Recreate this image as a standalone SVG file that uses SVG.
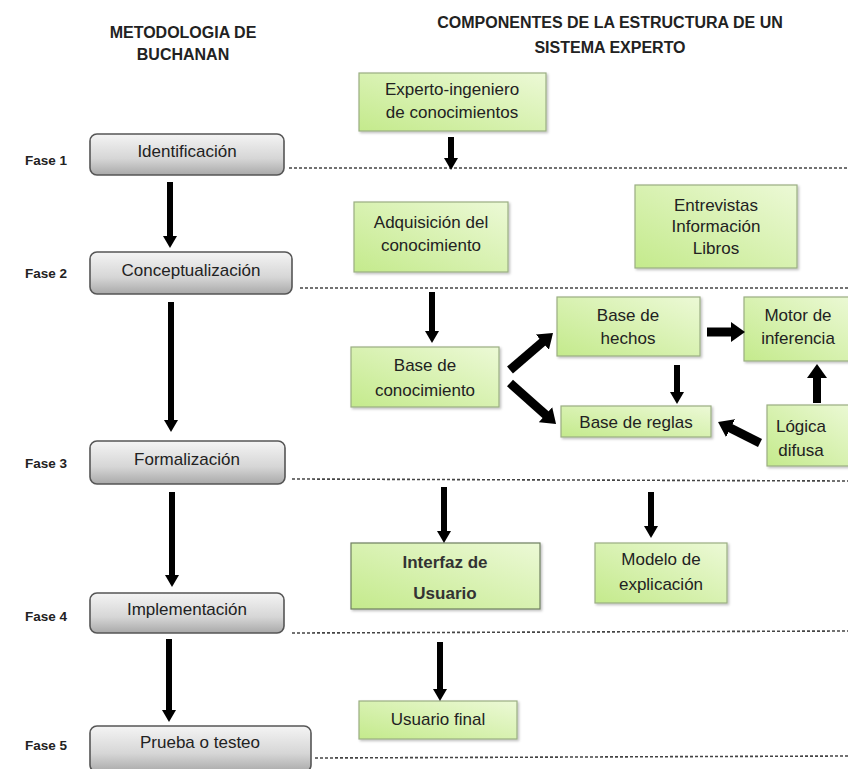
<svg xmlns="http://www.w3.org/2000/svg" width="848" height="769" viewBox="0 0 848 769">
<style>
text{font-family:"Liberation Sans",Arial,sans-serif;fill:#222;}
.t{font-size:17px;text-anchor:middle;}
.h{font-size:16px;font-weight:bold;text-anchor:middle;}
.f{font-size:13.5px;font-weight:bold;}
.g{fill:url(#gg);stroke:#555;stroke-width:1.6;}
.v{fill:url(#gv);stroke:#9aae82;stroke-width:1.2;filter:url(#sh);}
.dl{stroke:#444;stroke-width:1.6;stroke-dasharray:3 2;fill:none;}
.a{stroke:#000;stroke-width:6;fill:none;marker-end:url(#hs);}
.b{stroke:#000;stroke-width:9;fill:none;marker-end:url(#hb);}
</style>
<defs>
<linearGradient id="gg" x1="0" y1="0" x2="0" y2="1">
<stop offset="0" stop-color="#f4f4f4"/>
<stop offset="0.6" stop-color="#d6d6d6"/>
<stop offset="1" stop-color="#a9a9a9"/>
</linearGradient>
<linearGradient id="gv" x1="0" y1="1" x2="1" y2="0">
<stop offset="0" stop-color="#c4ea8c"/>
<stop offset="1" stop-color="#ecf9d6"/>
</linearGradient>
<filter id="sh" x="-10%" y="-10%" width="130%" height="130%">
<feDropShadow dx="1.5" dy="1.5" stdDeviation="1" flood-color="#000" flood-opacity="0.25"/>
</filter>
<marker id="hs" viewBox="0 0 12 14" markerUnits="userSpaceOnUse" markerWidth="12" markerHeight="14" refX="6" refY="7" orient="auto">
<path d="M0,0 L12,7 L0,14 z" fill="#000"/>
</marker>
<marker id="hb" viewBox="0 0 14 20" markerUnits="userSpaceOnUse" markerWidth="14" markerHeight="20" refX="7" refY="10" orient="auto">
<path d="M0,0 L14,10 L0,20 z" fill="#000"/>
</marker>
</defs>
<rect width="848" height="769" fill="#fff"/>

<g id="titles">
<text class="h" x="183" y="38">METODOLOGIA DE</text>
<text class="h" x="183" y="60">BUCHANAN</text>
<text class="h" x="610" y="28">COMPONENTES DE LA ESTRUCTURA DE UN</text>
<text class="h" x="610" y="53">SISTEMA EXPERTO</text>
</g>

<g id="phases">
<text class="f" x="25" y="165">Fase 1</text>
<text class="f" x="25" y="278">Fase 2</text>
<text class="f" x="25" y="468">Fase 3</text>
<text class="f" x="25" y="621">Fase 4</text>
<text class="f" x="25" y="750">Fase 5</text>
</g>

<g id="dashes">
<line class="dl" x1="289" y1="168" x2="848" y2="168"/>
<line class="dl" x1="300" y1="288" x2="848" y2="288"/>
<line class="dl" x1="292" y1="479" x2="848" y2="481"/>
<line class="dl" x1="292" y1="633" x2="848" y2="631"/>
<line class="dl" x1="315" y1="758" x2="848" y2="756"/>
</g>

<g id="identificacion"><rect class="g" x="90" y="134" width="194" height="41" rx="7"/><text class="t" x="187" y="157">Identificación</text></g>
<g id="conceptualizacion"><rect class="g" x="90" y="252" width="202" height="42" rx="7"/><text class="t" x="191" y="276">Conceptualización</text></g>
<g id="formalizacion"><rect class="g" x="90" y="441" width="195" height="43" rx="7"/><text class="t" x="187" y="465">Formalización</text></g>
<g id="implementacion"><rect class="g" x="90" y="593" width="194" height="40" rx="7"/><text class="t" x="187" y="615">Implementación</text></g>
<g id="prueba"><rect class="g" x="90" y="726" width="221" height="46" rx="7"/><text class="t" x="200" y="748">Prueba o testeo</text></g>

<g id="experto"><rect class="v" x="359" y="73" width="187" height="58"/><text class="t" x="452" y="95">Experto-ingeniero</text><text class="t" x="452" y="118">de conocimientos</text></g>
<g id="adquisicion"><rect class="v" x="354" y="202" width="154" height="70"/><text class="t" x="431" y="228">Adquisición del</text><text class="t" x="431" y="251">conocimiento</text></g>
<g id="entrevistas"><rect class="v" x="635" y="185" width="162" height="83"/><text class="t" x="716" y="211">Entrevistas</text><text class="t" x="716" y="232">Información</text><text class="t" x="716" y="254">Libros</text></g>
<g id="base-conocimiento"><rect class="v" x="351" y="347" width="148" height="60"/><text class="t" x="425" y="371">Base de</text><text class="t" x="425" y="396">conocimiento</text></g>
<g id="base-hechos"><rect class="v" x="557" y="297" width="143" height="59"/><text class="t" x="628" y="321">Base de</text><text class="t" x="628" y="344">hechos</text></g>
<g id="motor"><rect class="v" x="744" y="297" width="112" height="64"/><text class="t" x="798" y="321">Motor de</text><text class="t" x="798" y="344">inferencia</text></g>
<g id="base-reglas"><rect class="v" x="561" y="406" width="150" height="31"/><text class="t" x="636" y="428">Base de reglas</text></g>
<g id="logica"><rect class="v" x="767" y="405" width="88" height="61"/><text class="t" x="801" y="432">Lógica</text><text class="t" x="801" y="456">difusa</text></g>
<g id="interfaz"><rect class="v" x="351" y="543" width="189" height="66" style="stroke:#6f7f60"/><text class="t" x="445" y="568" style="font-weight:bold;fill:#333">Interfaz de</text><text class="t" x="445" y="599" style="font-weight:bold;fill:#333">Usuario</text></g>
<g id="modelo"><rect class="v" x="595" y="543" width="132" height="60"/><text class="t" x="661" y="565">Modelo de</text><text class="t" x="661" y="590">explicación</text></g>
<g id="usuario-final"><rect class="v" x="359" y="701" width="158" height="38"/><text class="t" x="438" y="725">Usuario final</text></g>

<g id="connectors">
<line class="a" x1="170" y1="182" x2="170" y2="242"/>
<line class="a" x1="171" y1="302" x2="171" y2="426"/>
<line class="a" x1="172" y1="492" x2="172" y2="581"/>
<line class="a" x1="169" y1="639" x2="169" y2="716"/>
<line class="a" x1="451" y1="137" x2="451" y2="164"/>
<line class="a" x1="432" y1="292" x2="432" y2="337"/>
<line class="a" x1="444" y1="487" x2="444" y2="537"/>
<line class="a" x1="651" y1="492" x2="651" y2="532"/>
<line class="a" x1="440" y1="642" x2="440" y2="695"/>
<line class="a" x1="677" y1="365" x2="677" y2="398"/>
<line class="b" x1="817" y1="403" x2="817" y2="371" style="stroke-width:8"/>
<line class="b" x1="707" y1="332" x2="738" y2="332"/>
<line class="b" x1="510" y1="370" x2="547.7" y2="337.6"/>
<line class="b" x1="510" y1="383" x2="550.8" y2="419.3"/>
<line class="b" x1="760" y1="443" x2="724.3" y2="425.1"/>
</g>
</svg>
